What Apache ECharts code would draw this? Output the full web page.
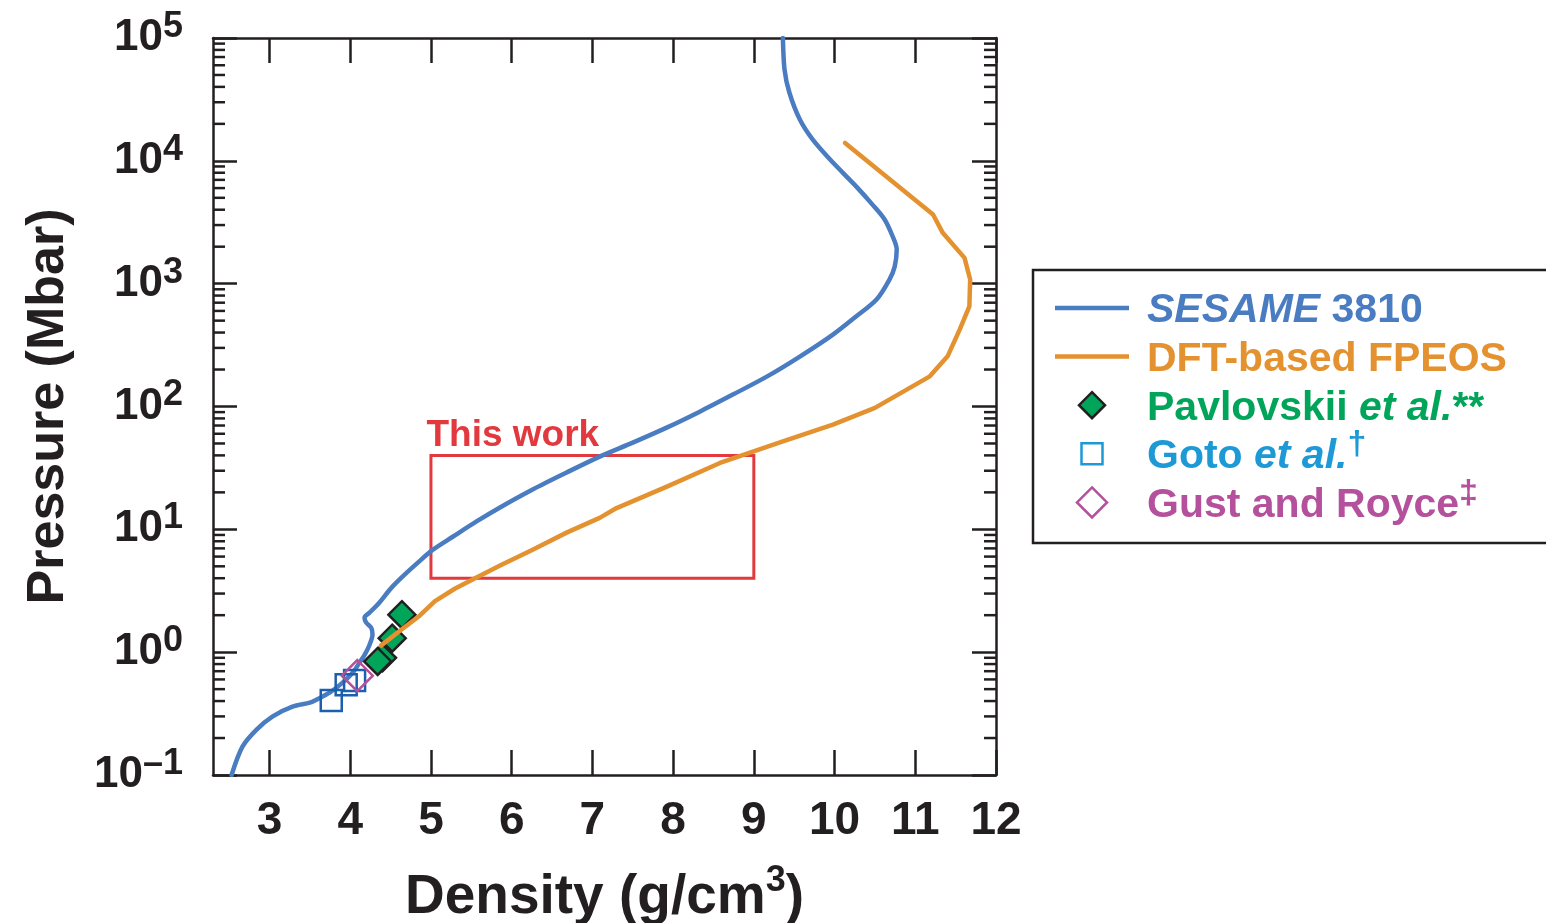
<!DOCTYPE html>
<html>
<head>
<meta charset="utf-8">
<title>Pressure vs density</title>
<script src="https://cdn.jsdelivr.net/npm/echarts@6/dist/echarts.min.js"></script>
<style>
  html, body { margin: 0; padding: 0; background: #ffffff; }
  #chart { width: 1546px; height: 923px; }
</style>
</head>
<body>
<div id="chart"></div>
<script>
// Density axis ticks (g/cm3)
const DENSITY_TICKS = [3, 4, 5, 6, 7, 8, 9, 10, 11, 12];
const DENSITY_RANGE = [2.3, 12];
const PRESSURE_RANGE = [0.1, 100000];

// [density (g/cm3), pressure (Mbar)]
const SESAME_3810 = [
  [2.53, 0.1], [2.665, 0.17], [2.84, 0.234], [3.04, 0.30], [3.285, 0.36],
  [3.50, 0.388], [3.58, 0.41], [3.744, 0.468], [3.905, 0.565], [4.03, 0.68],
  [4.115, 0.822], [4.18, 0.955], [4.24, 1.15], [4.276, 1.39], [4.26, 1.58],
  [4.198, 1.74], [4.177, 1.91], [4.239, 2.10], [4.34, 2.44], [4.52, 3.4],
  [4.70, 4.44], [4.88, 5.67], [5.02, 6.8], [5.27, 8.7], [5.565, 11.6],
  [5.85, 15.0], [6.26, 21.1], [6.68, 29.0], [7.09, 39.1], [7.50, 50.8],
  [7.92, 67.3], [8.33, 90.8], [8.74, 125], [9.16, 175], [9.57, 255],
  [9.98, 385], [10.25, 530], [10.52, 743], [10.68, 1080], [10.745, 1377],
  [10.77, 1900], [10.72, 2420], [10.62, 3330], [10.47, 4400], [10.27, 6170],
  [9.98, 9680], [9.73, 14900], [9.57, 21700], [9.44, 36000], [9.38, 55500],
  [9.36, 100000]
];

const DFT_FPEOS = [
  [4.38, 1.13], [4.62, 1.50], [4.86, 1.98], [5.05, 2.6], [5.30, 3.3],
  [5.565, 4.06], [5.85, 5.06], [6.26, 6.83], [6.68, 9.4], [7.09, 12.4],
  [7.30, 14.9], [7.93, 22.4], [8.58, 34.7], [9.36, 52.1], [9.98, 71.2],
  [10.50, 97.4], [11.18, 176], [11.40, 256], [11.55, 423], [11.67, 654],
  [11.68, 1081], [11.61, 1622], [11.34, 2593], [11.22, 3655], [10.13, 14000]
];

const PAVLOVSKII = [[4.64, 2.02], [4.52, 1.30], [4.40, 0.90], [4.34, 0.84]];
const GOTO = [[3.765, 0.405], [3.95, 0.544], [4.054, 0.589]];
const GUST_ROYCE = [[4.087, 0.644]];

// Region covered by the present experiments
const THIS_WORK_DENSITY = [5, 9];
const THIS_WORK_PRESSURE = [4, 40];

const NAMES = ['SESAME 3810', 'DFT-based FPEOS', 'Pavlovskii et al.**', 'Goto et al.\u2020', 'Gust and Royce\u2021'];

const INK = '#231f20';
const C_BLUE = '#4a7cc1';
const C_ORANGE = '#e3922f';
const C_GREEN = '#00a55a';
const C_GOTO = '#1b5fae';
const C_GOTO_LEG = '#1d9ad6';
const C_GUST = '#b5509d';
const C_RED = '#e2393f';
const FONT = '"Liberation Sans", Arial, Helvetica, sans-serif';

// minor log ticks 2..9 x 10^n inside each decade
const MINOR_TICKS = [];
for (let e = Math.log10(PRESSURE_RANGE[0]); e < Math.log10(PRESSURE_RANGE[1]); e++) {
  for (let m = 2; m <= 9; m++) MINOR_TICKS.push(m * Math.pow(10, e));
}

// ---- legend box (drawn as graphic elements) ----
function legStyle(color, italic, sup) {
  const s = { fill: color, fontFamily: FONT, fontWeight: 'bold', fontSize: 41, lineHeight: 42 };
  if (italic) s.fontStyle = 'italic';
  if (sup) { s.fontSize = 34; s.lineHeight = 10; s.padding = [0, 0, 24, 0]; }
  return s;
}
const LEG_RICH = {
  bI: legStyle(C_BLUE, true), bN: legStyle(C_BLUE, false),
  oN: legStyle(C_ORANGE, false),
  gN: legStyle(C_GREEN, false), gI: legStyle(C_GREEN, true),
  cN: legStyle(C_GOTO_LEG, false), cI: legStyle(C_GOTO_LEG, true), cS: legStyle(C_GOTO_LEG, false, true),
  mN: legStyle(C_GUST, false), mS: legStyle(C_GUST, false, true)
};
const LEG_TEXT = [
  '{bI|SESAME}{bN| 3810}',
  '{oN|DFT-based FPEOS}',
  '{gN|Pavlovskii }{gI|et al.}{gN|**}',
  '{cN|Goto }{cI|et al.}{cS|\u2020}',
  '{mN|Gust and Royce}{mS|\u2021}'
];
const LEG_X = 1033, LEG_Y = 270, LEG_ROW0 = 308, LEG_PITCH = 48.6;
const ICON_CX = 1092, TEXT_X = 1147;

function diamond(cx, cy, r) {
  return [[cx, cy - r], [cx + r, cy], [cx, cy + r], [cx - r, cy]];
}

const legendGraphics = [
  { type: 'rect', z: 20, shape: { x: LEG_X, y: LEG_Y, width: 560, height: 273 },
    style: { fill: '#ffffff', stroke: INK, lineWidth: 2.5 } }
];
const rowY = function (i) { return LEG_ROW0 + i * LEG_PITCH; };
legendGraphics.push(
  { type: 'line', z: 21, shape: { x1: 1055, y1: rowY(0), x2: 1129, y2: rowY(0) }, style: { stroke: C_BLUE, lineWidth: 4.5 } },
  { type: 'line', z: 21, shape: { x1: 1055, y1: rowY(1), x2: 1129, y2: rowY(1) }, style: { stroke: C_ORANGE, lineWidth: 4.5 } },
  { type: 'polygon', z: 21, shape: { points: diamond(ICON_CX, rowY(2), 13) }, style: { fill: C_GREEN, stroke: INK, lineWidth: 2.5 } },
  { type: 'rect', z: 21, shape: { x: ICON_CX - 10.5, y: rowY(3) - 10.5, width: 21, height: 21 }, style: { fill: 'none', stroke: C_GOTO_LEG, lineWidth: 2.5 } },
  { type: 'polygon', z: 21, shape: { points: diamond(ICON_CX, rowY(4), 15) }, style: { fill: 'none', stroke: C_GUST, lineWidth: 2.5 } }
);
LEG_TEXT.forEach(function (t, i) {
  legendGraphics.push({
    type: 'text', z: 21, x: TEXT_X, y: rowY(i) + 3,
    style: { text: t, rich: LEG_RICH, align: 'left', verticalAlign: 'middle',
             fontFamily: FONT, fontWeight: 'bold', fontSize: 41 }
  });
});

const chart = echarts.init(document.getElementById('chart'), null, { renderer: 'canvas' });

const axisLineStyle = { color: INK, width: 2.5 };

chart.setOption({
  animation: false,
  backgroundColor: '#ffffff',
  grid: { left: 213, top: 38, width: 783, height: 737, containLabel: false, outerBoundsMode: 'none' },
  graphic: legendGraphics,
  xAxis: [
    {
      type: 'value', position: 'bottom',
      min: DENSITY_RANGE[0], max: DENSITY_RANGE[1],
      name: '{n|Density (g/cm}{s|3}{n|)}',
      nameLocation: 'middle', nameGap: 95, nameMoveOverlap: false,
      nameTextStyle: {
        rich: {
          n: { fontFamily: FONT, fontWeight: 'bold', fontSize: 55, lineHeight: 55, color: INK },
          s: { fontFamily: FONT, fontWeight: 'bold', fontSize: 36, lineHeight: 20, padding: [0, 0, 32, 0], color: INK }
        }
      },
      axisLine: { show: true, lineStyle: axisLineStyle },
      axisTick: { show: true, inside: true, length: 25, lineStyle: axisLineStyle, customValues: DENSITY_TICKS },
      axisLabel: {
        show: true, customValues: DENSITY_TICKS, margin: 23,
        fontFamily: FONT, fontWeight: 'bold', fontSize: 46, color: INK
      },
      splitLine: { show: false }
    },
    {
      type: 'value', position: 'top',
      min: DENSITY_RANGE[0], max: DENSITY_RANGE[1],
      axisLine: { show: true, lineStyle: axisLineStyle },
      axisTick: { show: true, inside: true, length: 25, lineStyle: axisLineStyle, customValues: DENSITY_TICKS },
      axisLabel: { show: false },
      splitLine: { show: false }
    }
  ],
  yAxis: [
    {
      type: 'log', logBase: 10, position: 'left',
      min: PRESSURE_RANGE[0], max: PRESSURE_RANGE[1],
      name: 'Pressure (Mbar)',
      nameLocation: 'middle', nameGap: 138, nameRotate: 90, nameMoveOverlap: false,
      nameTextStyle: { fontFamily: FONT, fontWeight: 'bold', fontSize: 52, color: INK },
      axisLine: { show: true, lineStyle: axisLineStyle },
      axisTick: { show: true, inside: true, length: 24, lineStyle: axisLineStyle },
      axisLabel: {
        show: true, margin: 30,
        formatter: function (v) {
          const e = Math.round(Math.log10(v));
          const t = e < 0 ? '\u2013' + Math.abs(e) : String(e);
          return '{b|10}{s|' + t + '}';
        },
        rich: {
          b: { fontFamily: FONT, fontWeight: 'bold', fontSize: 44, lineHeight: 44, color: INK },
          s: { fontFamily: FONT, fontWeight: 'bold', fontSize: 36, lineHeight: 20,
               padding: [0, 0, 22, 0], color: INK }
        }
      },
      splitLine: { show: false },
      minorTick: { show: false }
    },
    {
      type: 'log', logBase: 10, position: 'right',
      min: PRESSURE_RANGE[0], max: PRESSURE_RANGE[1],
      axisLine: { show: true, lineStyle: axisLineStyle },
      axisTick: { show: true, inside: true, length: 24, lineStyle: axisLineStyle },
      axisLabel: { show: false },
      splitLine: { show: false }
    }
  ],
  series: [
    {
      // outline of the region studied here
      type: 'line', name: 'region', data: [], silent: true, z: 1,
      markArea: {
        silent: true,
        itemStyle: { color: 'rgba(0,0,0,0)', borderColor: C_RED, borderWidth: 3 },
        label: {
          show: true, position: [-3, 0], align: 'left', verticalAlign: 'bottom',
          fontFamily: FONT, fontWeight: 'bold', fontSize: 37, color: C_RED
        },
        data: [[
          { name: 'This work', coord: [THIS_WORK_DENSITY[0], THIS_WORK_PRESSURE[1]] },
          { coord: [THIS_WORK_DENSITY[1], THIS_WORK_PRESSURE[0]] }
        ]]
      }
    },
    {
      // minor log ticks on both vertical frame edges
      type: 'custom', name: 'minorTicks', silent: true, z: 3,
      data: MINOR_TICKS.map(function (v) { return [DENSITY_RANGE[0], v]; }),
      renderItem: function (params, api) {
        const cs = params.coordSys;
        const y = api.coord([api.value(0), api.value(1)])[1];
        const st = { stroke: INK, lineWidth: 2.5 };
        return {
          type: 'group',
          children: [
            { type: 'line', shape: { x1: cs.x, y1: y, x2: cs.x + 12, y2: y }, style: st },
            { type: 'line', shape: { x1: cs.x + cs.width - 12, y1: y, x2: cs.x + cs.width, y2: y }, style: st }
          ]
        };
      }
    },
    {
      type: 'line', name: NAMES[0], data: SESAME_3810, symbol: 'none', smooth: 0.3, z: 4,
      lineStyle: { color: C_BLUE, width: 4.5, cap: 'round', join: 'round' },
      itemStyle: { color: C_BLUE }
    },
    {
      type: 'scatter', name: NAMES[2], data: PAVLOVSKII, symbol: 'diamond', symbolSize: 27, z: 5,
      itemStyle: { color: C_GREEN, borderColor: INK, borderWidth: 2.5, opacity: 1 }
    },
    {
      type: 'line', name: NAMES[1], data: DFT_FPEOS, symbol: 'none', smooth: false, z: 6,
      lineStyle: { color: C_ORANGE, width: 4.5, cap: 'round', join: 'round' },
      itemStyle: { color: C_ORANGE }
    },
    {
      type: 'scatter', name: NAMES[3], data: GOTO, symbol: 'rect', symbolSize: 21, z: 7,
      itemStyle: { color: 'rgba(255,255,255,0)', borderColor: C_GOTO, borderWidth: 2.5, opacity: 1 }
    },
    {
      type: 'scatter', name: NAMES[4], data: GUST_ROYCE, symbol: 'diamond', symbolSize: 31, z: 8,
      itemStyle: { color: 'rgba(255,255,255,0)', borderColor: C_GUST, borderWidth: 2.5, opacity: 1 }
    }
  ]
});
</script>
</body>
</html>
